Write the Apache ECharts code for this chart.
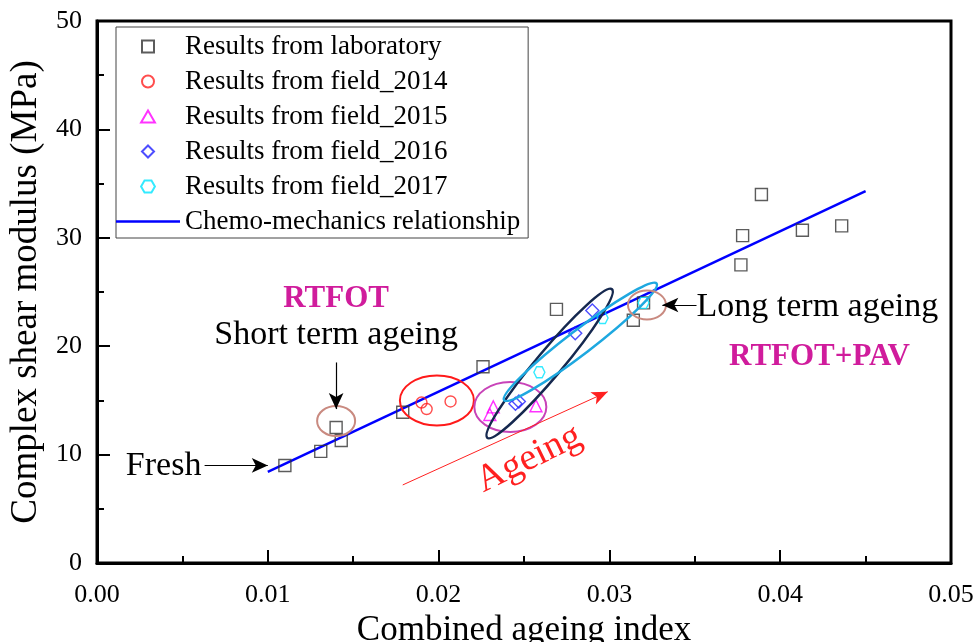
<!DOCTYPE html>
<html lang="en">
<head>
    <meta charset="UTF-8">
    <title>Complex shear modulus vs combined ageing index</title>
    <script src="https://cdn.jsdelivr.net/npm/echarts@6.0.0/dist/echarts.min.js"></script>
    <style>
        html, body { margin: 0; padding: 0; background: #fff; }
        #chart { width: 976px; height: 642px; }
    </style>
</head>
<body>
<div id="chart"></div>
<script>
// values: [combined ageing index, complex shear modulus (MPa)]
const labData = [
    [0.0110, 9.0], [0.0131, 10.3], [0.0143, 11.3], [0.0140, 12.5], [0.0179, 13.9],
    [0.0226, 18.1], [0.0269, 23.4], [0.0314, 22.4], [0.0320, 24.0], [0.0377, 27.5],
    [0.0378, 30.2], [0.0389, 34.0], [0.0413, 30.7], [0.0436, 31.1]
]
const field2014 = [[0.0190, 14.8], [0.0193, 14.2], [0.0207, 14.9]]
const field2015 = [[0.0232, 14.4], [0.0230, 13.7], [0.0257, 14.5]]
const field2016 = [[0.0245, 14.7], [0.0247, 14.9], [0.0280, 21.2], [0.0290, 23.3]]
const field2017 = [[0.0259, 17.6], [0.0296, 22.6], [0.0320, 24.0]]
const fitLine = [[0.0100, 8.4], [0.0450, 34.3]]

const seriesNames = [
    'Results from laboratory', 'Results from field_2014', 'Results from field_2015',
    'Results from field_2016', 'Results from field_2017', 'Chemo-mechanics relationship'
]

const font = "'Liberation Serif', 'Times New Roman', serif"
// path symbols keep their aspect in the legend
const markers = [
    'path://M0,0 L10,0 L10,10 L0,10 Z',
    'circle',
    'path://M5,0 L10,8.66 L0,8.66 Z',
    'path://M5,0 L10,5 L5,10 L0,5 Z',
    'path://M5,0 L15,0 L20,8.66 L15,17.32 L5,17.32 L0,8.66 Z'
]
const lineIcon = 'path://M0,0 L64,0 L64,2.5 L0,2.5 Z'

function hollow(name, data, symbol, color, size) {
    return {
        name: name,
        type: 'scatter',
        data: data,
        symbol: symbol,
        symbolSize: size,
        itemStyle: { color: 'rgba(255,255,255,0)', borderColor: color, borderWidth: 1.4 },
        z: 3
    }
}

// arrows (data coords)
function arrow(from, to, color, width, head) {
    return [
        { coord: from, symbol: 'none', lineStyle: { color: color, width: width, type: 'solid' } },
        { coord: to, symbol: 'arrow', symbolSize: head }
    ]
}

const chart = echarts.init(document.getElementById('chart'))
const option = {
    animation: false,
    textStyle: { fontFamily: font },
    grid: {
        left: 97, right: 25, top: 21, bottom: 79,
        outerBoundsMode: 'none',
        show: true, borderColor: '#000', borderWidth: 3
    },
    legend: {
        orient: 'vertical',
        left: 116,
        top: 27,
        itemWidth: 64,
        itemHeight: 12,
        itemGap: 8,
        symbolKeepAspect: true,
        padding: [6, 8, 3, 0],
        borderColor: '#444',
        borderWidth: 1,
        data: seriesNames.map((n, i) => ({ name: n, icon: i < 5 ? markers[i] : lineIcon })),
        textStyle: { fontFamily: font, fontSize: 27, lineHeight: 27, color: '#000' }
    },
    xAxis: {
        type: 'value',
        min: 0,
        max: 0.05,
        interval: 0.01,
        name: 'Combined ageing index',
        nameLocation: 'middle',
        nameGap: 50,
        nameTextStyle: { fontFamily: font, fontSize: 35, color: '#000' },
        axisLine: { lineStyle: { color: '#000', width: 3 } },
        axisTick: { inside: true, length: 13, lineStyle: { width: 2 } },
        minorTick: { show: true, splitNumber: 2, length: 7, lineStyle: { color: '#000', width: 2 } },
        axisLabel: { fontFamily: font, fontSize: 26, color: '#000', margin: 19, formatter: v => v.toFixed(2) },
        splitLine: { show: false }
    },
    yAxis: {
        type: 'value',
        min: 0,
        max: 50,
        interval: 10,
        name: 'Complex shear modulus (MPa)',
        nameLocation: 'middle',
        nameGap: 46,
        nameTextStyle: { fontFamily: font, fontSize: 37, color: '#000' },
        axisLine: { lineStyle: { color: '#000', width: 3 } },
        axisTick: { inside: true, length: 13, lineStyle: { width: 2 } },
        minorTick: { show: true, splitNumber: 2, length: 7, lineStyle: { color: '#000', width: 2 } },
        axisLabel: { fontFamily: font, fontSize: 26, color: '#000', margin: 15 },
        splitLine: { show: false }
    },
    series: [
        hollow(seriesNames[0], labData, markers[0], '#333', 12),
        hollow(seriesNames[1], field2014, markers[1], '#ff2020', 11),
        hollow(seriesNames[2], field2015, markers[2], '#ff00ff', 12),
        hollow(seriesNames[3], field2016, markers[3], '#2020ff', 13),
        hollow(seriesNames[4], field2017, markers[4], '#00e5ff', 11),
        {
            name: seriesNames[5],
            type: 'line',
            data: fitLine,
            symbol: 'none',
            lineStyle: { color: '#0000ff', width: 2.5 },
            itemStyle: { color: '#0000ff' },
            z: 2,
            markLine: {
                silent: true,
                label: { show: false },
                data: [
                    arrow([0.0063, 9.0], [0.0100, 9.0], '#000', 1.2, [11, 16]),
                    arrow([0.0140, 18.5], [0.0140, 14.2], '#000', 1.2, [11, 16]),
                    arrow([0.0351, 23.8], [0.0331, 23.8], '#000', 1.2, [11, 16]),
                    arrow([0.0179, 7.2], [0.0299, 15.8], '#ff2020', 1, [10, 16])
                ]
            }
        }
    ]
}
chart.setOption(option)

// rings and labels placed on data coordinates
const rings = [
    { c: [0.0140, 13.1], rx: 19, ry: 15, rot: 0, color: '#c98a80', w: 2 },
    { c: [0.0199, 15.0], rx: 37, ry: 25, rot: 0, color: '#ff1a1a', w: 2 },
    { c: [0.0242, 14.4], rx: 36, ry: 25, rot: 0, color: '#c843b8', w: 2 },
    { c: [0.0265, 18.4], rx: 97, ry: 13, rot: 50, color: '#15284f', w: 2.5 },
    { c: [0.0283, 20.4], rx: 96, ry: 12, rot: 37.4, color: '#1ea8e0', w: 2.5 },
    { c: [0.0322, 23.8], rx: 19, ry: 14.5, rot: 0, color: '#c98a80', w: 2 }
]
const notes = [
    { text: 'RTFOT', at: [0.0140, 24.4], align: 'center', size: 31, bold: true, color: '#d01c9c' },
    { text: 'Short term ageing', at: [0.0140, 21.0], align: 'center', size: 34, color: '#000' },
    { text: 'Fresh', at: [0.0039, 8.95], align: 'center', size: 34, color: '#000' },
    { text: 'Long term ageing', at: [0.0351, 23.6], align: 'left', size: 34, color: '#000' },
    { text: 'RTFOT+PAV', at: [0.0423, 19.0], align: 'center', size: 31, bold: true, color: '#d01c9c' },
    { text: 'Ageing', at: [0.0253, 9.6], align: 'center', size: 38, color: '#ff2020', rot: 26 }
]

const graphics = []
rings.forEach(r => {
    const p = chart.convertToPixel({ gridIndex: 0 }, r.c)
    graphics.push({
        type: 'ellipse',
        x: p[0], y: p[1],
        rotation: r.rot * Math.PI / 180,
        shape: { cx: 0, cy: 0, rx: r.rx, ry: r.ry },
        style: { fill: 'none', stroke: r.color, lineWidth: r.w },
        silent: true,
        z: 4
    })
})
notes.forEach(n => {
    const p = chart.convertToPixel({ gridIndex: 0 }, n.at)
    graphics.push({
        type: 'text',
        x: p[0], y: p[1],
        rotation: (n.rot || 0) * Math.PI / 180,
        style: {
            text: n.text,
            fill: n.color,
            font: (n.bold ? 'bold ' : '') + n.size + 'px ' + font,
            textAlign: n.align,
            textVerticalAlign: 'middle'
        },
        silent: true,
        z: 5
    })
})
chart.setOption({ graphic: graphics })
</script>
</body>
</html>
